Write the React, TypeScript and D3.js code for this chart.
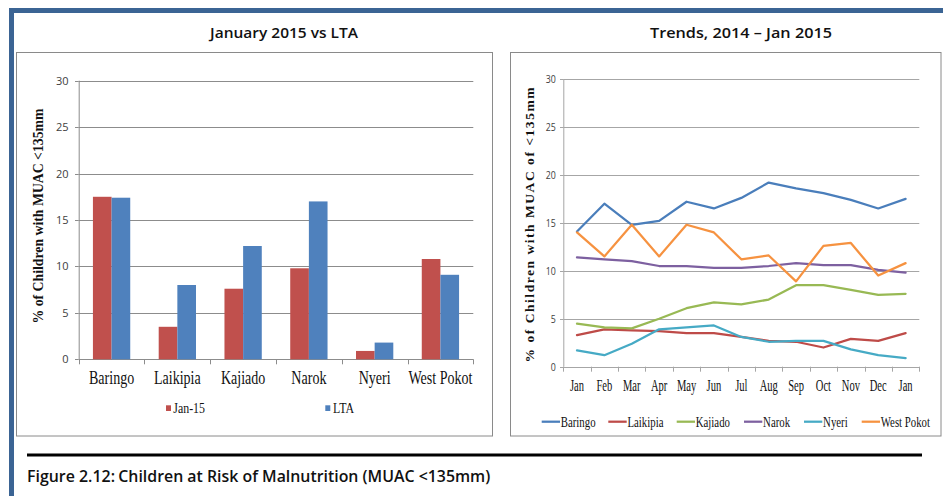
import React from 'react';
import * as d3 from 'd3';

const districts = ['Baringo', 'Laikipia', 'Kajiado', 'Narok', 'Nyeri', 'West Pokot'];
const jan15 = [17.5, 3.5, 7.6, 9.8, 0.9, 10.8];
const lta = [17.4, 8.0, 12.2, 17.0, 1.8, 9.1];
const yTicks = [0, 5, 10, 15, 20, 25, 30];

const months = ['Jan', 'Feb', 'Mar', 'Apr', 'May', 'Jun', 'Jul', 'Aug', 'Sep', 'Oct', 'Nov', 'Dec', 'Jan'];
const baringo = [14.1, 17.0, 14.8, 15.2, 17.2, 16.5, 17.6, 19.2, 18.6, 18.1, 17.4, 16.5, 17.5];
const laikipia = [3.3, 3.9, 3.8, 3.7, 3.5, 3.5, 3.1, 2.7, 2.6, 2.0, 2.9, 2.7, 3.5];
const kajiado = [4.5, 4.1, 4.0, 5.0, 6.1, 6.7, 6.5, 7.0, 8.5, 8.5, 8.0, 7.5, 7.6];
const narok = [11.4, 11.2, 11.0, 10.5, 10.5, 10.3, 10.3, 10.5, 10.8, 10.6, 10.6, 10.1, 9.8];
const nyeri = [1.7, 1.2, 2.4, 3.9, 4.1, 4.3, 3.1, 2.6, 2.7, 2.7, 1.8, 1.2, 0.9];
const westPokot = [14.0, 11.5, 14.8, 11.5, 14.8, 14.0, 11.2, 11.6, 8.9, 12.6, 12.9, 9.5, 10.8];

const trendSeries = [
  { name: 'Baringo', values: baringo, color: '#4A7EBB' },
  { name: 'Laikipia', values: laikipia, color: '#BE4B48' },
  { name: 'Kajiado', values: kajiado, color: '#98B954' },
  { name: 'Narok', values: narok, color: '#7D60A0' },
  { name: 'Nyeri', values: nyeri, color: '#46AAC5' },
  { name: 'West Pokot', values: westPokot, color: '#F69240' },
];

const barSeries = [
  { name: 'Jan-15', values: jan15, color: '#C0504D' },
  { name: 'LTA', values: lta, color: '#4F81BD' },
];

const SERIF = '"Liberation Serif", "Times New Roman", serif';
const SANS = '"Open Sans", "Liberation Sans", sans-serif';

export default function App() {
  // Left chart scales
  const xL = d3.scaleBand<string>().domain(districts).range([78.7, 473.3]).paddingInner(0).paddingOuter(0);
  const xLs = d3
    .scaleBand<string>()
    .domain(barSeries.map((s) => s.name))
    .range([0, xL.bandwidth()])
    .paddingInner(0)
    .paddingOuter(0.763);
  const yL = d3.scaleLinear().domain([0, 30]).range([359.3, 80.7]);

  // Right chart scales
  const idx = months.map((_, i) => String(i));
  const xR = d3.scaleBand<string>().domain(idx).range([563.3, 919.3]).paddingInner(0).paddingOuter(0);
  const yR = d3.scaleLinear().domain([0, 30]).range([366.7, 79]);
  const line = d3
    .line<number>()
    .x((_, i) => (xR(String(i)) as number) + xR.bandwidth() / 2)
    .y((v) => yR(v));

  const gridL = '#8C8C8C';
  const gridR = '#A6A6A6';

  const xLticks = [...districts.map((d) => xL(d) as number), xL.range()[1]];
  const xRticks = [...idx.map((d) => xR(d) as number), xR.range()[1]];

  const legendR = [
    { x1: 541.7, x2: 560 },
    { x1: 608.3, x2: 626.7 },
    { x1: 676.7, x2: 695 },
    { x1: 744, x2: 762.3 },
    { x1: 804, x2: 822.3 },
    { x1: 861.7, x2: 880 },
  ];

  return (
    <svg
      width={943}
      height={496}
      style={{ position: 'absolute', left: 0, top: 0, background: '#fff' }}
      xmlns="http://www.w3.org/2000/svg"
    >
      <rect x={0} y={0} width={943} height={496} fill="#fff" />
      {/* outer frame */}
      <rect x={9} y={8} width={934} height={5} fill="#3B6494" />
      <rect x={9} y={8} width={5} height={488} fill="#3B6494" />

      {/* titles */}
      <text x={284} y={38} textAnchor="middle" fontFamily={SANS} fontWeight={600} fontSize={15} textLength={148} lengthAdjust="spacingAndGlyphs" fill="#111">
        January 2015 vs LTA
      </text>
      <text x={741} y={38} textAnchor="middle" fontFamily={SANS} fontWeight={600} fontSize={15} textLength={182} lengthAdjust="spacingAndGlyphs" fill="#111">
        Trends,  2014 – Jan 2015
      </text>

      {/* chart boxes */}
      <rect x={16.5} y={52.5} width={476} height={383.5} fill="#fff" stroke="#8a8a8a" strokeWidth={1} />
      <rect x={510.5} y={52.5} width={430.5} height={383.5} fill="#fff" stroke="#8a8a8a" strokeWidth={1} />

      {/* ===== Left chart ===== */}
      <g>
        {yTicks.map((t) => (
          <g key={t}>
            <line x1={xL.range()[0]} x2={xL.range()[1]} y1={Math.round(yL(t)) + 0.5} y2={Math.round(yL(t)) + 0.5} stroke={gridL} strokeWidth={1} />
            <line x1={75} x2={xL.range()[0]} y1={Math.round(yL(t)) + 0.5} y2={Math.round(yL(t)) + 0.5} stroke={gridL} strokeWidth={1} />
            <text x={68.5} y={yL(t)} dy="0.36em" textAnchor="end" fontFamily={SANS} fontSize={11} fill="#404040">
              {t}
            </text>
          </g>
        ))}
        <line x1={79.2} x2={79.2} y1={yL(30)} y2={yL(0)} stroke={gridL} strokeWidth={1} />
        {xLticks.map((x, i) => (
          <line key={i} x1={Math.round(x) + 0.5} x2={Math.round(x) + 0.5} y1={yL(0)} y2={yL(0) + 5} stroke={gridL} strokeWidth={1} />
        ))}
        {barSeries.map((s) =>
          s.values.map((v, i) => {
            const x = (xL(districts[i]) as number) + (xLs(s.name) as number);
            return (
              <rect key={s.name + i} x={x} y={yL(v)} width={xLs.bandwidth()} height={yL(0) - yL(v)} fill={s.color} />
            );
          })
        )}
        {districts.map((d) => (
          <text
            key={d}
            transform={`translate(${(xL(d) as number) + xL.bandwidth() / 2},384) scale(0.78,1)`}
            textAnchor="middle"
            fontFamily={SERIF}
            fontSize={18}
            fill="#111"
          >
            {d}
          </text>
        ))}
        <text
          transform="translate(43,216) rotate(-90)"
          textAnchor="middle"
          fontFamily={SERIF}
          fontWeight={700}
          fontSize={14}
          textLength={215}
          lengthAdjust="spacingAndGlyphs"
          fill="#111"
        >
          % of Children with MUAC &lt;135mm
        </text>
        {/* legend */}
        <rect x={166} y={405.3} width={5} height={5.7} fill={barSeries[0].color} />
        <text transform="translate(173.3,412.7) scale(0.85,1)" fontFamily={SERIF} fontSize={14} fill="#111">
          Jan-15
        </text>
        <rect x={325.3} y={405.3} width={5} height={5.7} fill={barSeries[1].color} />
        <text transform="translate(333,412.7) scale(0.85,1)" fontFamily={SERIF} fontSize={14} fill="#111">
          LTA
        </text>
      </g>

      {/* ===== Right chart ===== */}
      <g>
        {yTicks.map((t) => (
          <g key={t}>
            <line x1={xR.range()[0]} x2={xR.range()[1]} y1={Math.round(yR(t)) + 0.5} y2={Math.round(yR(t)) + 0.5} stroke={gridR} strokeWidth={1} />
            <line x1={560} x2={xR.range()[0]} y1={Math.round(yR(t)) + 0.5} y2={Math.round(yR(t)) + 0.5} stroke={gridR} strokeWidth={1} />
            <text transform={`translate(555.8,${yR(t)}) scale(0.8,1)`} dy="0.36em" textAnchor="end" fontFamily={SANS} fontSize={11} fill="#404040">
              {t}
            </text>
          </g>
        ))}
        <line x1={563.8} x2={563.8} y1={yR(30)} y2={yR(0)} stroke={gridR} strokeWidth={1} />
        {xRticks.map((x, i) => (
          <line key={i} x1={Math.round(x) + 0.5} x2={Math.round(x) + 0.5} y1={yR(0)} y2={yR(0) + 5} stroke={gridR} strokeWidth={1} />
        ))}
        {trendSeries.map((s) => (
          <path key={s.name} d={line(s.values) as string} fill="none" stroke={s.color} strokeWidth={2.25} strokeLinejoin="round" strokeLinecap="round" />
        ))}
        {months.map((m, i) => (
          <text
            key={i}
            transform={`translate(${(xR(String(i)) as number) + xR.bandwidth() / 2},390.5) scale(0.62,1)`}
            textAnchor="middle"
            fontFamily={SERIF}
            fontSize={17}
            fill="#111"
          >
            {m}
          </text>
        ))}
        <text
          transform="translate(534,225) rotate(-90)"
          textAnchor="middle"
          fontFamily={SERIF}
          fontWeight={700}
          fontSize={13.5}
          textLength={275}
          lengthAdjust="spacing"
          fill="#111"
        >
          % of Children with MUAC of &lt;135mm
        </text>
        {trendSeries.map((s, i) => (
          <g key={s.name}>
            <line x1={legendR[i].x1} x2={legendR[i].x2} y1={421.7} y2={421.7} stroke={s.color} strokeWidth={2.25} />
            <text transform={`translate(${legendR[i].x2 + 0.8},426.7) scale(0.72,1)`} fontFamily={SERIF} fontSize={15} fill="#111">
              {s.name}
            </text>
          </g>
        ))}
      </g>

      {/* caption */}
      <rect x={27} y={453.5} width={895} height={3} fill="#000" />
      <text x={27} y={481.7} fontFamily={SANS} fontWeight={600} fontSize={17} textLength={88} lengthAdjust="spacingAndGlyphs" fill="#111">
        Figure 2.12:
      </text>
      <text x={118.3} y={481.7} fontFamily={SANS} fontWeight={600} fontSize={17} textLength={372} lengthAdjust="spacingAndGlyphs" fill="#111">
        Children at Risk of Malnutrition (MUAC &lt;135mm)
      </text>
    </svg>
  );
}
